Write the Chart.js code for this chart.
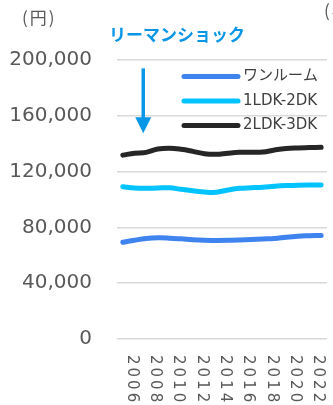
<!DOCTYPE html>
<html>
<head>
<meta charset="utf-8">
<script src="https://cdn.jsdelivr.net/npm/chart.js@4"></script>
<style>
  html, body { margin: 0; padding: 0; background: #fff; }
  #wrap { width: 333px; height: 405px; position: relative; }
</style>
</head>
<body>
<div id="wrap"><canvas id="myChart"></canvas></div>
<script>
// data
var years = ['2005','2006','2007','2008','2009','2010','2011','2012','2013',
             '2014','2015','2016','2017','2018','2019','2020','2021','2022'];
var oneRoom = [69300, 70800, 72000, 72500, 72300, 71800, 71200, 70800, 70600,
               70700, 71000, 71400, 71700, 72000, 73000, 73700, 74000, 74200];
var ldk12 = [109200, 108200, 108000, 108300, 108400, 107300, 106300, 105400, 105200,
             106800, 108000, 108400, 108800, 109500, 110000, 110300, 110400, 110400];
var ldk23 = [131800, 133200, 133800, 136200, 136800, 136000, 134500, 132800, 132400,
             133200, 133800, 133800, 134000, 135500, 136600, 137000, 137200, 137400];
var seriesNames = ['ワンルーム', '1LDK-2DK', '2LDK-3DK'];
var yTicks = [0, 40000, 80000, 120000, 160000, 200000];

var colors = ['#3f83ef', '#00c3ff', '#262626'];
var textGrey = '#595959';

// arrow for the Lehman shock note (category index / y values)
var arrow = { at: 1.75, from: 194000, headStart: 159000, to: 147500 };

var extras = {
  id: 'extras',
  afterDraw: function (chart) {
    var c = chart.ctx, x = chart.scales.x, y = chart.scales.y, a = chart.chartArea;
    c.save();

    // x labels, every other year, rotated to read downward
    c.font = '15px "DejaVu Sans"';
    c.fillStyle = textGrey;
    c.letterSpacing = '3px';
    c.textAlign = 'left';
    c.textBaseline = 'middle';
    years.forEach(function (yr, i) {
      if (+yr % 2 !== 0) return;
      c.save();
      c.translate(x.getPixelForValue(i) - 3, a.bottom + 16);
      c.rotate(Math.PI / 2);
      c.fillText(yr, 0, 0);
      c.restore();
    });

    // unit labels
    c.letterSpacing = '2px';
    c.font = '17px "Noto Sans CJK JP"';
    c.textBaseline = 'middle';
    c.fillText('(円)', 22, 18);
    c.fillText('(年)', 324, 11);

    // note
    c.letterSpacing = '0px';
    c.font = 'bold 17px "Noto Sans CJK JP"';
    c.fillStyle = '#0a96e6';
    c.fillText('リーマンショック', 109, 35);

    // arrow
    var ax = x.getPixelForValue(arrow.at);
    c.strokeStyle = '#0a96e6';
    c.lineWidth = 3.5;
    c.beginPath();
    c.moveTo(ax, y.getPixelForValue(arrow.from));
    c.lineTo(ax, y.getPixelForValue(arrow.headStart) + 2);
    c.stroke();
    c.beginPath();
    var hy = y.getPixelForValue(arrow.headStart);
    c.moveTo(ax - 8, hy);
    c.lineTo(ax + 8, hy);
    c.lineTo(ax, y.getPixelForValue(arrow.to));
    c.closePath();
    c.fill();

    // legend
    c.letterSpacing = '0px';
    c.font = '15px "DejaVu Sans", "Noto Sans CJK JP"';
    c.lineCap = 'round';
    c.lineWidth = 5;
    seriesNames.forEach(function (name, i) {
      var ly = a.top + 16.5 + i * 24.5;
      c.strokeStyle = colors[i];
      c.beginPath();
      c.moveTo(a.left + 67, ly);
      c.lineTo(a.left + 121, ly);
      c.stroke();
      c.fillStyle = '#404040';
      c.fillText(name, a.left + 126, ly);
    });

    c.restore();
  }
};

var ctx = document.getElementById('myChart');

var myChart = new Chart(ctx, {
  type: 'line',
  data: {
    labels: years,
    datasets: [oneRoom, ldk12, ldk23].map(function (d, i) {
      return {
        label: seriesNames[i],
        data: d,
        borderColor: colors[i],
        backgroundColor: colors[i],
        borderWidth: 5,
        borderCapStyle: 'round',
        pointRadius: 0,
        tension: 0.4,
        fill: false
      };
    })
  },
  options: {
    responsive: true,
    maintainAspectRatio: false,
    animation: false,
    layout: { padding: { top: 60, right: 6, bottom: 66, left: 0 } },
    plugins: { legend: { display: false }, tooltip: { enabled: false } },
    scales: {
      x: {
        offset: true,
        grid: { display: false },
        border: { display: false },
        ticks: { display: false },
        afterFit: function (s) { s.height = 0; }
      },
      y: {
        min: 0,
        max: 200000,
        afterFit: function (s) { s.width = 117; },
        afterBuildTicks: function (s) {
          s.ticks = yTicks.map(function (v) { return { value: v }; });
        },
        grid: { color: '#d9d9d9', lineWidth: 1.5, drawTicks: false },
        border: { display: false },
        ticks: {
          padding: 25,
          color: textGrey,
          font: { family: 'DejaVu Sans', size: 20 },
          callback: function (v) { return v.toLocaleString('en-US'); }
        }
      }
    }
  },
  plugins: [extras]
});
</script>
</body>
</html>
